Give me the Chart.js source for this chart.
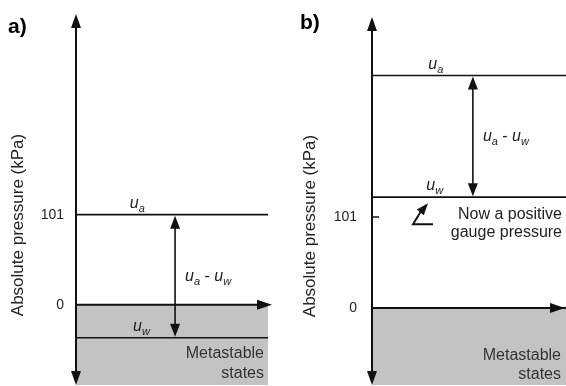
<!DOCTYPE html>
<html><head><meta charset="utf-8">
<script src="https://cdn.jsdelivr.net/npm/chart.js@4"></script>
<style>
html,body{margin:0;padding:0;background:#fff;}
#wrap{position:relative;width:566px;height:386px;overflow:hidden;}
.pane{position:absolute;top:0;width:283px;height:386px;}
</style></head><body>
<div id="wrap">
<div class="pane" style="left:0"><canvas id="ca" width="283" height="386"></canvas></div>
<div class="pane" style="left:283px"><canvas id="cb" width="283" height="386"></canvas></div>
</div>
<script>
// ---- data ----
const panels = ['a)', 'b)'];
const airPressure = [101, 258];      // u_a, absolute kPa
const waterPressure = [-37, 123];    // u_w, absolute kPa
const tickValues = [0, 101];
const tickLabels = ['0', '101'];
const yMin = [-90, -85.5];
const yMax = [326, 323];
const axisTitle = 'Absolute pressure (kPa)';
const regionText = ['Metastable', 'states'];
const noteText = ['Now a positive', 'gauge pressure'];

// ---- layout / style ----
const FONT = '"Liberation Sans", Arial, Helvetica, sans-serif';
const GREY = '#c3c3c3';
const INK = '#111';
const layout = [
  {padTop:14, padRight:15, axisW:76, tickPad:12, arrowX:5.16, titleX:18, titleY:225,
   tag:{x:8,y:33}, uaLabelX:2.8, uwLabelX:2.97, xTipExtra:4, textRight:264, textY:[354,374], note:false},
  {padTop:17, padRight:0, axisW:89, tickPad:15, arrowX:5.2, titleX:27, titleY:226,
   tag:{x:17,y:29}, uaLabelX:2.9, uwLabelX:2.8, xTipExtra:-1, textRight:278, textY:[356,375], note:true}
];

function arrowHead(ctx, tx, ty, dx, dy, len, wid) {
  const n = Math.hypot(dx, dy); dx /= n; dy /= n;
  const bx = tx - dx*len, by = ty - dy*len;
  ctx.beginPath();
  ctx.moveTo(tx, ty);
  ctx.lineTo(bx - dy*wid/2, by + dx*wid/2);
  ctx.lineTo(bx + dy*wid/2, by - dx*wid/2);
  ctx.closePath();
  ctx.fill();
}
function subLabel(ctx, x, y, main, sub, size) {
  ctx.textAlign = 'left'; ctx.textBaseline = 'alphabetic';
  ctx.font = `italic ${size}px ${FONT}`;
  ctx.fillText(main, x, y);
  const w = ctx.measureText(main).width;
  const s2 = Math.round(size*0.68);
  ctx.font = `italic ${s2}px ${FONT}`;
  ctx.fillText(sub, x + w, y + size*0.25);
  return w + ctx.measureText(sub).width;
}

const decor = {
  id: 'decor',
  afterDatasetsDraw(chart, args, opts) {
    const i = opts.idx, L = layout[i];
    const ctx = chart.ctx, ca = chart.chartArea;
    const xs = chart.scales.x, ys = chart.scales.y;
    const ax = ca.left;
    ctx.save();
    ctx.fillStyle = INK; ctx.strokeStyle = INK;
    // vertical axis with arrows at both ends
    ctx.lineWidth = 2;
    ctx.beginPath(); ctx.moveTo(ax, ca.top + 8); ctx.lineTo(ax, ca.bottom - 8); ctx.stroke();
    arrowHead(ctx, ax, ca.top, 0, -1, 14, 10);
    arrowHead(ctx, ax, ca.bottom, 0, 1, 14, 10);
    // horizontal (zero) axis arrow
    const y0 = ys.getPixelForValue(0);
    const tipX = ca.right + L.xTipExtra;
    ctx.beginPath(); ctx.moveTo(ca.right - 4, y0); ctx.lineTo(tipX - 8, y0); ctx.stroke();
    arrowHead(ctx, tipX, y0, 1, 0, 15, 10);
    // double arrow u_a - u_w
    const yA = ys.getPixelForValue(airPressure[i]);
    const yW = ys.getPixelForValue(waterPressure[i]);
    const dxp = xs.getPixelForValue(L.arrowX);
    ctx.lineWidth = 1.6;
    ctx.beginPath(); ctx.moveTo(dxp, yA + 8); ctx.lineTo(dxp, yW - 8); ctx.stroke();
    arrowHead(ctx, dxp, yA + 1, 0, -1, 13, 10);
    arrowHead(ctx, dxp, yW - 1, 0, 1, 13, 10);
    // labels
    ctx.fillStyle = '#222';
    subLabel(ctx, xs.getPixelForValue(L.uaLabelX), yA - 7, 'u', 'a', 16);
    subLabel(ctx, xs.getPixelForValue(L.uwLabelX), yW - 7, 'u', 'w', 16);
    const ym = (yA + yW) / 2 + 5;
    let cx = dxp + 10;
    cx += subLabel(ctx, cx, ym, 'u', 'a', 16);
    ctx.font = `16px ${FONT}`;
    ctx.fillText(' - ', cx, ym);
    cx += ctx.measureText(' - ').width;
    subLabel(ctx, cx, ym, 'u', 'w', 16);
    // region text
    ctx.fillStyle = '#333';
    ctx.font = `16px ${FONT}`;
    ctx.textAlign = 'right'; ctx.textBaseline = 'middle';
    ctx.fillText(regionText[0], L.textRight, L.textY[0]);
    ctx.fillText(regionText[1], L.textRight, L.textY[1]);
    // panel tag
    ctx.fillStyle = '#000';
    ctx.font = `bold 21px ${FONT}`;
    ctx.textAlign = 'left'; ctx.textBaseline = 'alphabetic';
    ctx.fillText(panels[i], L.tag.x, L.tag.y);
    // axis title
    ctx.save();
    ctx.translate(L.titleX, L.titleY);
    ctx.rotate(-Math.PI/2);
    ctx.font = `17px ${FONT}`;
    ctx.fillStyle = '#222';
    ctx.textAlign = 'center'; ctx.textBaseline = 'middle';
    ctx.fillText(axisTitle, 0, 0);
    ctx.restore();
    if (L.note) {
      const y101 = ys.getPixelForValue(tickValues[1]);
      ctx.strokeStyle = INK; ctx.fillStyle = INK; ctx.lineWidth = 1.5;
      ctx.beginPath(); ctx.moveTo(ax, y101); ctx.lineTo(ax + 7, y101); ctx.stroke();
      // pointer arrow
      const tx = 145, ty = yW + 6;
      ctx.lineWidth = 2;
      ctx.beginPath();
      ctx.moveTo(150, ty + 21); ctx.lineTo(130, ty + 21); ctx.lineTo(tx - 7, ty + 8);
      ctx.stroke();
      arrowHead(ctx, tx, ty, 15, -18, 12, 9);
      ctx.fillStyle = '#222';
      ctx.font = `16px ${FONT}`;
      ctx.textAlign = 'right'; ctx.textBaseline = 'middle';
      ctx.fillText(noteText[0], 279, y101 - 2);
      ctx.fillText(noteText[1], 279, y101 + 16);
    }
    ctx.restore();
  }
};

function makeChart(id, i) {
  const L = layout[i];
  const line = (v, extra) => Object.assign({
    data: [{x:0, y:v}, {x:10, y:v}],
    borderColor: INK, borderWidth: 1.6, pointRadius: 0, fill: false, tension: 0, order: 0
  }, extra || {});
  return new Chart(document.getElementById(id), {
    type: 'line',
    data: {
      datasets: [
        line(0, {fill: 'start', backgroundColor: GREY, borderWidth: 2, label: 'Metastable states', order: 5}),
        line(airPressure[i], {label: 'ua'}),
        line(waterPressure[i], {label: 'uw'})
      ]
    },
    options: {
      responsive: false,
      animation: false,
      devicePixelRatio: 1,
      layout: {padding: {top: L.padTop, bottom: 1, left: 0, right: L.padRight}},
      plugins: {legend: {display: false}, tooltip: {enabled: false}, decor: {idx: i}},
      scales: {
        x: {type: 'linear', min: 0, max: 10, display: false},
        y: {
          type: 'linear', min: yMin[i], max: yMax[i],
          grid: {display: false, drawTicks: false},
          border: {display: false},
          afterBuildTicks: s => { s.ticks = tickValues.map(v => ({value: v})); },
          afterFit: s => { s.width = L.axisW; s.paddingTop = 0; s.paddingBottom = 0; s.paddingLeft = 0; s.paddingRight = 0; },
          ticks: {
            padding: L.tickPad, color: '#222',
            font: {family: FONT, size: 14},
            callback: (v) => tickLabels[tickValues.indexOf(v)]
          }
        }
      }
    },
    plugins: [decor]
  });
}
makeChart('ca', 0);
makeChart('cb', 1);
</script>
</body></html>
